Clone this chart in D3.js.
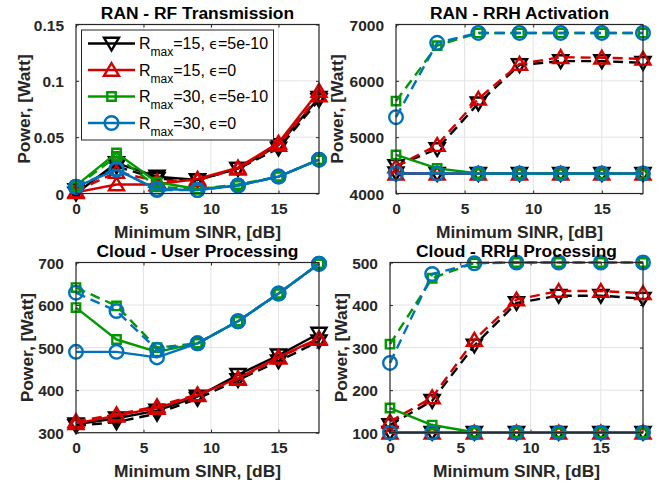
<!DOCTYPE html>
<html>
<head>
<meta charset="utf-8">
<script src="https://cdn.jsdelivr.net/npm/d3@7"></script>
<style>
  html, body { margin: 0; padding: 0; background: #fff; }
  svg { display: block; }
</style>
</head>
<body>
<svg id="fig" width="664" height="483"></svg>
<script>
// Minimum SINR sweep (dB)
const sinrDb = [0, 3, 6, 9, 12, 15, 18];
const xTicks = [0, 5, 10, 15];

// Series order: Rmax=15 eps=5e-10, Rmax=15 eps=0, Rmax=30 eps=5e-10, Rmax=30 eps=0
const seriesRmax = ["15", "15", "30", "30"];
const seriesEps = ["5e-10", "0", "5e-10", "0"];
const seriesColors = ["#000000", "#d40000", "#009a00", "#0072bd"];
const seriesMarkers = ["triangleDown", "triangleUp", "square", "circle"];

// RAN - RF Transmission (W)
const rfSolid = [
  [0.000, 0.027, 0.015, 0.012, 0.022, 0.043, 0.085],
  [0.001, 0.008, 0.008, 0.013, 0.023, 0.045, 0.091],
  [0.007, 0.036, 0.010, 0.004, 0.007, 0.015, 0.030],
  [0.006, 0.021, 0.004, 0.003, 0.007, 0.015, 0.030]
];
const rfDashed = [
  [0.003, 0.024, 0.013, 0.012, 0.022, 0.040, 0.083],
  [0.002, 0.019, 0.011, 0.012, 0.022, 0.043, 0.087],
  [0.006, 0.033, 0.006, 0.004, 0.008, 0.015, 0.030],
  [0.006, 0.022, 0.003, 0.003, 0.007, 0.015, 0.030]
];
const rfYTicks = [0, 0.05, 0.1, 0.15];
const rfYTickLabels = ["0", "0.05", "0.1", "0.15"];

// RAN - RRH Activation (W)
const actSolid = [
  [4360, 4350, 4350, 4350, 4350, 4350, 4350],
  [4350, 4350, 4350, 4350, 4350, 4350, 4350],
  [4685, 4445, 4355, 4350, 4350, 4350, 4350],
  [4355, 4355, 4355, 4355, 4355, 4355, 4355]
];
const actDashed = [
  [4490, 4790, 5600, 6280, 6350, 6350, 6320],
  [4480, 4860, 5680, 6300, 6420, 6410, 6390],
  [5640, 6625, 6850, 6850, 6850, 6850, 6850],
  [5355, 6675, 6850, 6850, 6850, 6850, 6850]
];
const actYTicks = [4000, 5000, 6000, 7000];
const actYTickLabels = ["4000", "5000", "6000", "7000"];

// Cloud - User Processing (W)
const userSolid = [
  [320, 334, 352, 385, 436, 482, 533],
  [322, 340, 358, 388, 428, 478, 522],
  [594, 519, 490, 510, 562, 627, 697],
  [490, 490, 477, 510, 562, 627, 697]
];
const userDashed = [
  [316, 325, 345, 380, 424, 468, 515],
  [327, 343, 362, 390, 426, 476, 520],
  [641, 598, 500, 510, 562, 627, 697],
  [629, 586, 495, 510, 562, 627, 697]
];
const userYTicks = [300, 400, 500, 600, 700];
const userYTickLabels = ["300", "400", "500", "600", "700"];

// Cloud - RRH Processing (W)
const procSolid = [
  [100, 100, 100, 100, 100, 100, 100],
  [100, 100, 100, 100, 100, 100, 100],
  [158, 118, 101, 100, 100, 100, 100],
  [100, 100, 100, 100, 100, 100, 100]
];
const procDashed = [
  [118, 175, 305, 405, 422, 422, 415],
  [126, 183, 318, 413, 433, 433, 428],
  [308, 463, 499, 500, 500, 500, 500],
  [264, 473, 498, 500, 500, 500, 500]
];
const procYTicks = [100, 200, 300, 400, 500];
const procYTickLabels = ["100", "200", "300", "400", "500"];

const panelTitles = ["RAN - RF Transmission", "RAN - RRH Activation",
                     "Cloud - User Processing", "Cloud - RRH Processing"];
const xLabel = "Minimum SINR, [dB]";
const yLabel = "Power, [Watt]";

// ---- layout ----
const FONT = "'Liberation Sans', Arial, Helvetica, sans-serif";
const TXT = "#262626";
const LW = 2.4;
const panels = [
  { box: [76, 24.5, 319, 193.5], title: panelTitles[0], solid: rfSolid, dashed: rfDashed,
    ydom: [0, 0.15], yt: rfYTicks, ytl: rfYTickLabels, ylabX: 30, legend: true },
  { box: [396, 24.5, 643, 193.5], title: panelTitles[1], solid: actSolid, dashed: actDashed,
    ydom: [4000, 7000], yt: actYTicks, ytl: actYTickLabels, ylabX: 343 },
  { box: [76, 262.5, 319, 432.7], title: panelTitles[2], solid: userSolid, dashed: userDashed,
    ydom: [300, 700], yt: userYTicks, ytl: userYTickLabels, ylabX: 33 },
  { box: [390, 262.5, 643, 432.7], title: panelTitles[3], solid: procSolid, dashed: procDashed,
    ydom: [100, 500], yt: procYTicks, ytl: procYTickLabels, ylabX: 347 }
];

const svg = d3.select("#fig");
svg.append("rect").attr("width", 664).attr("height", 483).attr("fill", "#fff");

function markerPath(type) {
  if (type === "triangleUp") return "M0,-7L7.5,5.8L-7.5,5.8Z";
  if (type === "triangleDown") return "M0,7L7.5,-5.8L-7.5,-5.8Z";
  if (type === "square") return "M-4.2,-4.2H4.2V4.2H-4.2Z";
  return d3.symbol(d3.symbolCircle, Math.PI * 6.8 * 6.8)();
}

function drawSeries(g, x, y, values, color, marker, dashed) {
  const line = d3.line().x((d, i) => x(sinrDb[i])).y(d => y(d));
  g.append("path")
    .attr("d", line(values))
    .attr("fill", "none")
    .attr("stroke", color)
    .attr("stroke-width", LW)
    .attr("stroke-linejoin", "round")
    .attr("stroke-dasharray", dashed ? "10,6" : null);
  g.selectAll(null).data(values).enter().append("path")
    .attr("d", markerPath(marker))
    .attr("transform", (d, i) => `translate(${x(sinrDb[i])},${y(d)})`)
    .attr("fill", "none")
    .attr("stroke", color)
    .attr("stroke-width", LW);
}

panels.forEach(p => {
  const [x0, y0, x1, y1] = p.box;
  const x = d3.scaleLinear().domain([0, 18]).range([x0, x1]);
  const y = d3.scaleLinear().domain(p.ydom).range([y1, y0]);
  const g = svg.append("g");

  // grid
  g.append("g").selectAll("line").data(xTicks.filter(t => t > 0)).enter().append("line")
    .attr("x1", d => x(d)).attr("x2", d => x(d)).attr("y1", y0).attr("y2", y1)
    .attr("stroke", "#e3e3e3").attr("stroke-width", 1);
  g.append("g").selectAll("line").data(p.yt.slice(1, -1)).enter().append("line")
    .attr("x1", x0).attr("x2", x1).attr("y1", d => y(d)).attr("y2", d => y(d))
    .attr("stroke", "#e3e3e3").attr("stroke-width", 1);

  // axes (tick labels + inward ticks)
  g.append("g").attr("transform", `translate(0,${y1})`)
    .call(d3.axisBottom(x).tickValues(xTicks).tickSizeInner(-3).tickSizeOuter(0).tickPadding(9));
  const ay = g.append("g").attr("transform", `translate(${x0},0)`)
    .call(d3.axisLeft(y).tickValues(p.yt).tickFormat((d, i) => p.ytl[i])
      .tickSizeInner(-3).tickSizeOuter(0).tickPadding(12));
  g.append("g").attr("transform", `translate(0,${y0})`)
    .call(d3.axisTop(x).tickValues(xTicks).tickSizeInner(-3).tickSizeOuter(0).tickFormat(""));
  g.append("g").attr("transform", `translate(${x1},0)`)
    .call(d3.axisRight(y).tickValues(p.yt).tickSizeInner(-3).tickSizeOuter(0).tickFormat(""));
  g.selectAll(".domain").remove();
  g.selectAll(".tick line").attr("stroke", TXT).attr("stroke-width", 1);
  g.selectAll(".tick text").attr("fill", TXT).style("font-family", FONT)
    .style("font-size", "15.5px").style("font-weight", "bold");
  ay.selectAll(".tick text").attr("dy", "0.36em");

  // data
  const dg = g.append("g");
  for (let s = 0; s < 4; s++) {
    drawSeries(dg, x, y, p.solid[s], seriesColors[s], seriesMarkers[s], false);
    drawSeries(dg, x, y, p.dashed[s], seriesColors[s], seriesMarkers[s], true);
  }

  // box
  g.append("rect").attr("x", x0).attr("y", y0).attr("width", x1 - x0).attr("height", y1 - y0)
    .attr("fill", "none").attr("stroke", TXT).attr("stroke-width", 1.2);

  // labels
  g.append("text").attr("x", (x0 + x1) / 2).attr("y", y0 - 6).attr("text-anchor", "middle")
    .attr("fill", "#000").style("font-family", FONT).style("font-size", "17.4px")
    .style("font-weight", "bold").text(p.title);
  g.append("text").attr("x", (x0 + x1) / 2).attr("y", y1 + 44).attr("text-anchor", "middle")
    .attr("fill", TXT).style("font-family", FONT).style("font-size", "17.4px")
    .style("font-weight", "bold").text(xLabel);
  g.append("text").attr("transform", `translate(${p.ylabX},${(y0 + y1) / 2}) rotate(-90)`)
    .attr("text-anchor", "middle")
    .attr("fill", TXT).style("font-family", FONT).style("font-size", "17.4px")
    .style("font-weight", "bold").text(yLabel);

  if (p.legend) {
    const lg = g.append("g");
    lg.append("rect").attr("x", 81.5).attr("y", 30).attr("width", 192).attr("height", 110)
      .attr("fill", "#fff").attr("stroke", TXT).attr("stroke-width", 1);
    const rowY = d3.scalePoint().domain(d3.range(4)).range([43.5, 123]);
    for (let s = 0; s < 4; s++) {
      const cy = rowY(s);
      lg.append("line").attr("x1", 88).attr("x2", 135).attr("y1", cy).attr("y2", cy)
        .attr("stroke", seriesColors[s]).attr("stroke-width", LW);
      lg.append("path").attr("d", markerPath(seriesMarkers[s]))
        .attr("transform", `translate(111.5,${cy})`)
        .attr("fill", "none").attr("stroke", seriesColors[s]).attr("stroke-width", LW);
      const t = lg.append("text").attr("x", 139).attr("y", cy + 5.5).attr("fill", "#000")
        .style("font-family", FONT).style("font-size", "16px");
      t.append("tspan").text("R");
      t.append("tspan").attr("dy", 7).style("font-size", "12px").text("max");
      t.append("tspan").attr("dy", -7).text(`=${seriesRmax[s]}, `);
      t.append("tspan").style("font-family", "'DejaVu Sans', sans-serif").style("font-size", "14px").text("\u03F5");
      t.append("tspan").text(`=${seriesEps[s]}`);
    }
  }
});
</script>
</body>
</html>
